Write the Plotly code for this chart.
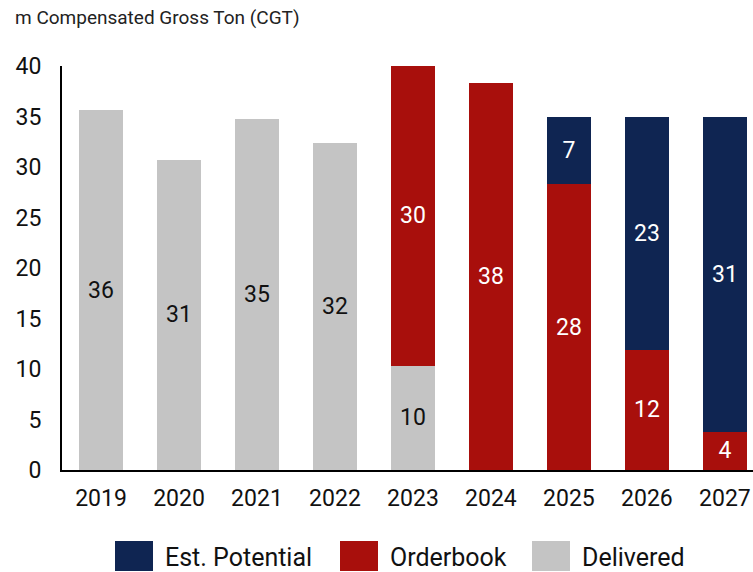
import plotly.graph_objects as go

# Data (m CGT)
years = ['2019', '2020', '2021', '2022', '2023', '2024', '2025', '2026', '2027']
delivered = [35.6, 30.7, 34.8, 32.4, 10.3, None, None, None, None]
orderbook = [None, None, None, None, 29.7, 38.3, 28.3, 11.9, 3.8]
est_potential = [None, None, None, None, None, None, 6.7, 23.1, 31.2]

legend_names = ['Est. Potential', 'Orderbook', 'Delivered']
colors = {'Delivered': '#c4c4c4', 'Orderbook': '#a80f0c', 'Est. Potential': '#0f2552'}
font_family = 'Roboto, Arial, sans-serif'

fig = go.Figure()
for name, vals, txtcol in [('Delivered', delivered, '#111111'),
                           ('Orderbook', orderbook, 'white'),
                           ('Est. Potential', est_potential, 'white')]:
    fig.add_trace(go.Bar(
        x=years, y=vals, name=name,
        marker=dict(color=colors[name], line=dict(width=0)),
        texttemplate='%{y:.0f}', textposition='inside',
        insidetextanchor='middle',
        textfont=dict(size=23, color=txtcol, family=font_family),
        showlegend=False,
    ))

# plot area in pixels: x 62..753, y 66..470
def px(x):
    return (x - 62) / 691

def py(y):
    return (470 - y) / 404

# Legend drawn by hand so the swatches are big like the original
swatch_x = [115, 340, 532]
for name, x0 in zip(legend_names, swatch_x):
    fig.add_shape(type='rect', xref='paper', yref='paper',
                  x0=px(x0), x1=px(x0 + 38), y0=py(541), y1=py(571),
                  fillcolor=colors[name], line=dict(width=0))
    fig.add_annotation(text=name, xref='paper', yref='paper',
                       x=px(x0 + 48), y=py(557),
                       xanchor='left', yanchor='middle', showarrow=False,
                       font=dict(size=25, color='#111111', family=font_family))

fig.add_annotation(text='m Compensated Gross Ton (CGT)', xref='paper', yref='paper',
                   x=px(13), y=py(18), xanchor='left', yanchor='middle',
                   showarrow=False, font=dict(size=19, color='#222222', family=font_family))

fig.update_layout(
    barmode='stack',
    bargap=0.44,
    width=753, height=572,
    margin=dict(l=62, r=0, t=66, b=102, autoexpand=False),
    plot_bgcolor='white', paper_bgcolor='white',
    font=dict(family=font_family, color='#111111'),
    xaxis=dict(range=[-0.5, 8.36], showline=True, linecolor='black', linewidth=2,
               showgrid=False, ticks='', tickfont=dict(size=23), automargin=False,
               ticklabelstandoff=6),
    yaxis=dict(range=[0, 40], dtick=5, showline=True, linecolor='black', linewidth=2,
               showgrid=False, zeroline=False, ticks='', ticklabelstandoff=14,
               tickfont=dict(size=23), automargin=False),
)

# the page's default body margin would push the chart off by 8px
fig.write_html("out.html", config={'displayModeBar': False},
               post_script="document.body.style.margin='0';")
